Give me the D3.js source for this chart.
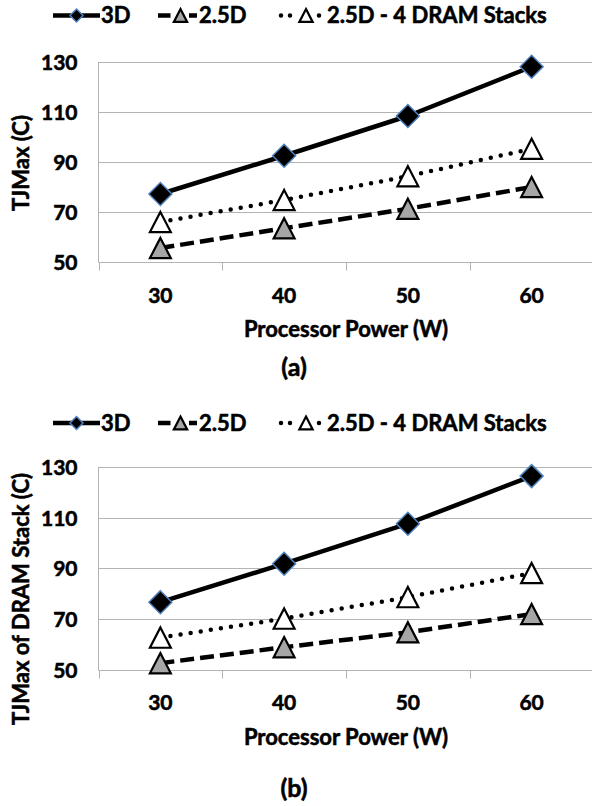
<!DOCTYPE html>
<html>
<head>
<meta charset="utf-8">
<script src="https://cdn.jsdelivr.net/npm/d3@7/dist/d3.min.js"></script>
<style>
  html, body { margin: 0; padding: 0; background: #fff; }
  svg { display: block; }
  text { font-family: Lato, "Open Sans", sans-serif; font-weight: bold; fill: #000; stroke: #000; stroke-width: 0.55px; }
</style>
</head>
<body>
<svg id="chart" width="592" height="806"></svg>
<script>
// ---- data ----
const categories = ["30", "40", "50", "60"];
const yTickValues = [50, 70, 90, 110, 130];
const seriesNames = ["3D", "2.5D", "2.5D - 4 DRAM Stacks"];
const xTitle = "Processor Power (W)";

// panel (a): TJMax
const a3D    = [77.2, 92.5, 108.4, 128.1];
const a25D   = [55.6, 63.5, 71.3, 80.0];
const a25D4  = [66.0, 74.8, 84.3, 95.3];
// panel (b): TJMax of DRAM stack
const b3D    = [76.6, 91.8, 107.6, 126.4];
const b25D   = [52.5, 58.8, 64.7, 71.9];
const b25D4  = [62.6, 70.1, 78.6, 88.1];

const yTitles = ["TJMax (C)", "TJMax of DRAM Stack (C)"];
const panelLabels = ["(a)", "(b)"];

// ---- styles ----
const styles = [
  { stroke: "#000", width: 4.5, dash: null, cap: "butt", marker: "diamond", fill: "#000" },
  { stroke: "#000", width: 4.5, dash: "14,6", cap: "butt", marker: "triangle", fill: "#a6a6a6" },
  { stroke: "#000", width: 4.5, dash: "0,10.2", cap: "round", marker: "triangle", fill: "#fff" }
];

const svg = d3.select("#chart");

function markerPath(type, s) {
  if (type === "diamond") {
    return `M0,${-s}L${s},0L0,${s}L${-s},0Z`;
  }
  const w = s * 0.95, h = s * 0.92;
  return `M0,${-h}L${w},${h}L${-w},${h}Z`;
}
function drawMarker(g, type, fill, x, y, s) {
  const p = g.append("path")
    .attr("d", markerPath(type, s))
    .attr("transform", `translate(${x},${y})`)
    .attr("fill", fill);
  if (type === "diamond") {
    p.attr("stroke", "#4f81bd").attr("stroke-width", 1.5).attr("stroke-linejoin", "miter");
  } else {
    p.attr("stroke", "#000").attr("stroke-width", 2.2).attr("stroke-linejoin", "miter");
  }
}

function drawPanel(cfg) {
  const g = svg.append("g");
  const x = d3.scaleBand().domain(categories).range([98.5, 593.5]).padding(0);
  const y = d3.scaleLinear().domain([50, 130]).range([cfg.yBottom, cfg.yTop]);

  // gridlines
  g.append("g").selectAll("line").data(yTickValues).join("line")
    .attr("x1", 98.5).attr("x2", 592)
    .attr("y1", d => Math.round(y(d)) + 0.5).attr("y2", d => Math.round(y(d)) + 0.5)
    .attr("stroke", "#b3b3b3").attr("stroke-width", 1);

  // y axis line
  g.append("line").attr("x1", 98.5).attr("x2", 98.5)
    .attr("y1", y(130)).attr("y2", Math.round(y(50)) + 0.5)
    .attr("stroke", "#b3b3b3").attr("stroke-width", 1);

  // category tick marks (band boundaries)
  const bounds = categories.map(c => x(c)).concat([x(categories[categories.length - 1]) + x.bandwidth()]);
  g.append("g").selectAll("line").data(bounds).join("line")
    .attr("x1", d => Math.round(d) + 0.5).attr("x2", d => Math.round(d) + 0.5)
    .attr("y1", Math.round(y(50)) + 0.5).attr("y2", Math.round(y(50)) + 8.5)
    .attr("stroke", "#b3b3b3").attr("stroke-width", 1);

  // y axis labels via d3 axis
  const yAxis = d3.axisLeft(y).tickValues(yTickValues).tickSize(0).tickPadding(21);
  const ya = g.append("g").attr("transform", "translate(98.5,0)").call(yAxis);
  ya.select(".domain").remove();
  ya.selectAll("text").attr("font-size", 21).attr("font-family", "Lato, sans-serif")
    .attr("font-weight", "bold").attr("fill", "#000").attr("dy", "0.36em");

  // x axis labels via d3 axis
  const xAxis = d3.axisBottom(x).tickSize(0).tickPadding(0);
  const xa = g.append("g").attr("transform", `translate(0,${cfg.xLabelBase})`).call(xAxis);
  xa.select(".domain").remove();
  xa.selectAll("text").attr("font-size", 21).attr("font-family", "Lato, sans-serif")
    .attr("font-weight", "bold").attr("fill", "#000").attr("dy", "0").attr("y", 0);

  // axis titles
  g.append("text").attr("x", 346).attr("y", cfg.xTitleBase)
    .attr("text-anchor", "middle").attr("font-size", 22).text(xTitle);
  g.append("text").attr("transform", `translate(28.5,${cfg.yTitleCenter}) rotate(-90)`)
    .attr("text-anchor", "middle").attr("font-size", 22).text(cfg.yTitle);

  // series
  const cx = c => x(c) + x.bandwidth() / 2;
  const line = d3.line().x((d, i) => cx(categories[i])).y(d => y(d));
  cfg.series.forEach((vals, si) => {
    const st = styles[si];
    g.append("path").datum(vals).attr("d", line)
      .attr("fill", "none").attr("stroke", st.stroke).attr("stroke-width", st.width)
      .attr("stroke-dasharray", st.dash).attr("stroke-linecap", st.cap)
      .attr("stroke-linejoin", "round");
  });
  cfg.series.forEach((vals, si) => {
    const st = styles[si];
    vals.forEach((v, i) => drawMarker(g, st.marker, st.fill, cx(categories[i]), y(v), st.marker === "diamond" ? 11.5 : 11));
  });

  // legend
  const lg = g.append("g");
  const ly = cfg.legendBase - 7.5;
  // 3D
  lg.append("line").attr("x1", 53).attr("x2", 100).attr("y1", ly).attr("y2", ly)
    .attr("stroke", "#000").attr("stroke-width", 4.5);
  drawMarker(lg, "diamond", "#000", 76.5, ly, 6.5);
  lg.append("text").attr("x", 101).attr("y", cfg.legendBase).attr("font-size", 22).text(seriesNames[0]);
  // 2.5D
  lg.append("line").attr("x1", 158).attr("x2", 197).attr("y1", ly).attr("y2", ly)
    .attr("stroke", "#000").attr("stroke-width", 4.5).attr("stroke-dasharray", "12.5,18.5,8,100");
  drawMarker(lg, "triangle", "#a6a6a6", 180.5, ly, 7);
  lg.append("text").attr("x", 199).attr("y", cfg.legendBase).attr("font-size", 22).text(seriesNames[1]);
  // 2.5D - 4 DRAM
  lg.append("line").attr("x1", 281).attr("x2", 320).attr("y1", ly).attr("y2", ly)
    .attr("stroke", "#000").attr("stroke-width", 4.5).attr("stroke-linecap", "round")
    .attr("stroke-dasharray", "0,9,0,29,0,100");
  drawMarker(lg, "triangle", "#fff", 306, ly, 7);
  lg.append("text").attr("x", 327).attr("y", cfg.legendBase).attr("font-size", 22).text(seriesNames[2]);

  // panel label
  g.append("text").attr("x", 294).attr("y", cfg.labelBase)
    .attr("text-anchor", "middle").attr("font-size", 25).text(cfg.label);
}

drawPanel({
  yTop: 62, yBottom: 262, xLabelBase: 303, xTitleBase: 337, yTitleCenter: 163,
  legendBase: 23, labelBase: 376, yTitle: yTitles[0], label: panelLabels[0],
  series: [a3D, a25D, a25D4]
});
drawPanel({
  yTop: 467, yBottom: 669.5, xLabelBase: 710, xTitleBase: 745, yTitleCenter: 599,
  legendBase: 430.5, labelBase: 797, yTitle: yTitles[1], label: panelLabels[1],
  series: [b3D, b25D, b25D4]
});
</script>
</body>
</html>
